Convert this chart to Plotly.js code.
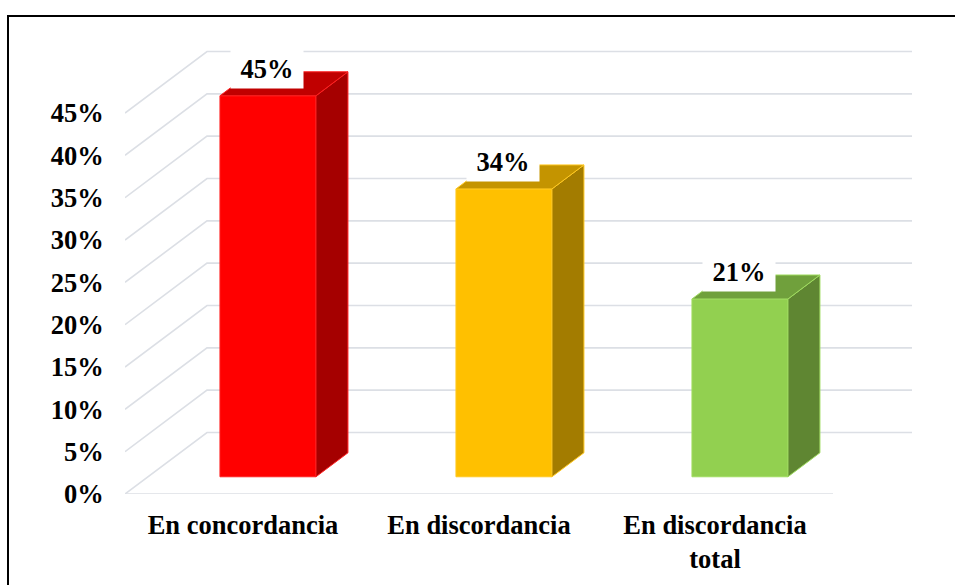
<!DOCTYPE html>
<html>
<head>
<meta charset="utf-8">
<script src="https://cdn.plot.ly/plotly-3.0.1.min.js"></script>
<style>html,body{margin:0;padding:0;background:#fff;}#chart{width:955px;height:585px;}</style>
</head>
<body>
<div id="chart"></div>
<script>
// ---- data ----
const categories = ["En concordancia", "En discordancia", "En discordancia<br>total"];
const values = [45, 34, 21];
const tickValues = [0, 5, 10, 15, 20, 25, 30, 35, 40, 45];
const tickLabels = ["0%", "5%", "10%", "15%", "20%", "25%", "30%", "35%", "40%", "45%"];
const frontColors = ["#FF0000", "#FFC000", "#92D050"];
const sideColors = ["#A50000", "#A37C00", "#5F8632"];
const topColors = ["#C00000", "#C49400", "#70A03C"];
const edgeColors = ["#FF2020", "#FFC820", "#A0DC60"];

// ---- geometry (pixel-derived constants) ----
const W = 955, H = 585;
const plotL = 125, plotR = 912, plotT = 30, plotB = 494;
const slotPx = 236;                 // width of one category on the front edge
const pxPerPct = (494 - 113) / 45;  // vertical scale
const FULL_DX = 82 / slotPx;        // depth vector in x units
const FULL_DY = 61.5 / pxPerPct;    // depth vector in y units
const dA = 0.28, dB = 0.67;         // bar front / back depth fractions
const barShift = 2 / slotPx;
const halfW = 48 / slotPx;
const xMin = -0.5, xMax = -0.5 + (plotR - plotL) / slotPx;
const yMax = (plotB - plotT) / pxPerPct;
const font = "Liberation Serif, 'Times New Roman', serif";

const traces = [];

// front faces (bars)
traces.push({type: "bar", x: values.map((v, i) => i + dA * FULL_DX + barShift), y: values,
  base: values.map(() => dA * FULL_DY), width: 2 * halfW,
  marker: {color: frontColors, line: {color: edgeColors, width: 1}},
  hoverinfo: "skip", showlegend: false});

// side and top faces
values.forEach((v, i) => {
  const cx = i + dA * FULL_DX + barShift;
  const base = dA * FULL_DY;
  const xl = cx - halfW, xr = cx + halfW;
  const ddx = (dB - dA) * FULL_DX, ddy = (dB - dA) * FULL_DY;
  traces.push({type: "scatter", mode: "lines", fill: "toself", hoverinfo: "skip",
    x: [xr, xr, xr + ddx, xr + ddx, xr], y: [base, base + v, base + v + ddy, base + ddy, base],
    fillcolor: sideColors[i], line: {color: edgeColors[i], width: 1}, showlegend: false});
  traces.push({type: "scatter", mode: "lines", fill: "toself", hoverinfo: "skip",
    x: [xl, xr, xr + ddx, xl + ddx, xl], y: [base + v, base + v, base + v + ddy, base + v + ddy, base + v],
    fillcolor: topColors[i], line: {color: edgeColors[i], width: 1}, showlegend: false});
});

// gridlines (below traces): side wall diagonals + back wall lines + floor front edge
const gridShapes = [];
const gridLine = {color: "#DCDFE5", width: 1.6};
tickValues.forEach(v => {
  gridShapes.push({type: "path", xref: "x", yref: "y", layer: "below", line: gridLine,
    path: `M ${xMin},${v} L ${xMin + FULL_DX},${v + FULL_DY} L ${xMax},${v + FULL_DY}`});
});
gridShapes.push({type: "line", xref: "x", yref: "y", layer: "below", line: gridLine,
  x0: xMin, x1: 2.5, y0: 0, y1: 0});

// data labels
const annotations = values.map((v, i) => ({
  x: i + dA * FULL_DX + barShift, y: v + dB * FULL_DY, xref: "x", yref: "y",
  text: v + "%", showarrow: false, bgcolor: "#FFFFFF", width: 70, height: 36,
  xshift: -1, yshift: 3, font: {family: font, size: 26.5, color: "#000", weight: "bold"}
}));

const layout = {
  width: W, height: H,
  margin: {l: plotL, r: W - plotR, t: plotT, b: H - plotB, pad: 0},
  paper_bgcolor: "#FFFFFF", plot_bgcolor: "rgba(0,0,0,0)",
  showlegend: false, bargap: 0,
  xaxis: {range: [xMin, xMax], tickvals: [0, 1, 2], ticktext: categories,
    showgrid: false, zeroline: false, showline: false, fixedrange: true,
    ticks: "outside", ticklen: 7, tickcolor: "rgba(0,0,0,0)",
    tickfont: {family: font, size: 26.5, color: "#000", weight: "bold"}},
  yaxis: {range: [0, yMax], tickvals: tickValues, ticktext: tickLabels,
    showgrid: false, zeroline: false, showline: false, fixedrange: true,
    ticks: "outside", ticklen: 15, tickcolor: "rgba(0,0,0,0)",
    tickfont: {family: font, size: 26.5, color: "#000", weight: "bold"}},
  annotations: annotations,
  shapes: gridShapes.concat([{type: "rect", xref: "paper", yref: "paper", layer: "above",
    x0: (8 - plotL) / (plotR - plotL), x1: 1.3,
    y0: -0.5, y1: (plotB - 16) / (plotB - plotT),
    line: {color: "#000", width: 2}, fillcolor: "rgba(0,0,0,0)"}])
};

Plotly.newPlot("chart", traces, layout, {displayModeBar: false, staticPlot: true});
</script>
</body>
</html>
